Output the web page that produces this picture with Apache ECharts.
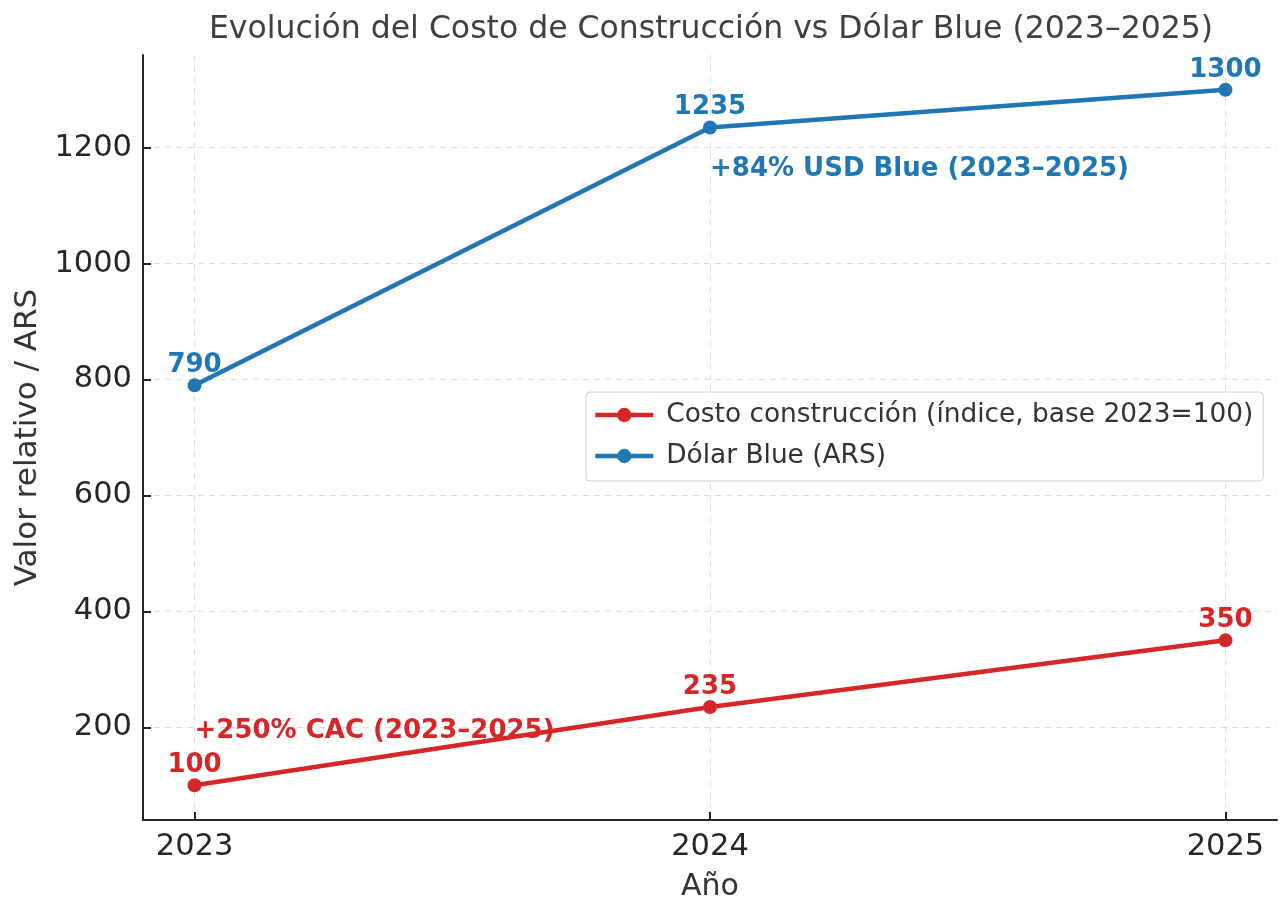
<!DOCTYPE html>
<html>
<head>
<meta charset="utf-8">
<title>Costo de Construcción vs Dólar Blue</title>
<script src="https://cdn.jsdelivr.net/npm/echarts@6/dist/echarts.min.js"></script>
<style>
    html, body { margin: 0; padding: 0; background: #fff; }
    #main { width: 1280px; height: 897px; }
</style>
</head>
<body>
<div id="main"></div>
<script>
    // datos
    var years = [2023, 2024, 2025];
    var costoConstruccion = [100, 235, 350];
    var dolarBlue = [790, 1235, 1300];
    var yTicks = [200, 400, 600, 800, 1000, 1200];
    var notaUsd = { x: 2024, y: 1163, text: '+84% USD Blue (2023–2025)' };
    var notaCac = { x: 2023, y: 193, text: '+250% CAC (2023–2025)' };

    var ROJO = '#d62728';
    var AZUL = '#1f77b4';
    var FUENTE = 'DejaVu Sans';

    function pares(xs, ys) {
        var out = [];
        for (var i = 0; i < xs.length; i++) {
            out.push([xs[i], ys[i]]);
        }
        return out;
    }

    function nota(n, color) {
        return {
            symbol: 'circle',
            symbolSize: 0,
            data: [{
                coord: [n.x, n.y],
                label: {
                    show: true,
                    position: 'right',
                    distance: 0,
                    formatter: n.text,
                    color: color,
                    fontFamily: FUENTE,
                    fontWeight: 'bold',
                    fontSize: 26
                }
            }]
        };
    }

    var myChart = echarts.init(document.getElementById('main'));
    var option = {
        animation: false,
        backgroundColor: '#fff',
        textStyle: { fontFamily: FUENTE },
        title: {
            text: 'Evolución del Costo de Construcción vs Dólar Blue (2023–2025)',
            left: 706,
            top: 9,
            textAlign: 'center',
            textStyle: { fontFamily: FUENTE, fontWeight: 'normal', fontSize: 31.5, color: '#404040' }
        },
        legend: {
            orient: 'vertical',
            left: 586,
            top: 392,
            padding: [9, 10, 11, 7],
            itemGap: 13,
            itemWidth: 58,
            itemHeight: 18,
            backgroundColor: 'rgba(255,255,255,0.85)',
            borderColor: '#d0d0d0',
            borderWidth: 1,
            borderRadius: 4,
            lineStyle: { width: 4.5 },
            textStyle: { fontFamily: FUENTE, fontSize: 26.4, lineHeight: 28, color: '#333', padding: [0, 0, 0, 8] },
            data: ['Costo construcción (índice, base 2023=100)', 'Dólar Blue (ARS)']
        },
        grid: { left: 143, right: 3, top: 55, bottom: 77, containLabel: false, outerBoundsMode: 'none' },
        xAxis: {
            type: 'value',
            min: 2022.9,
            max: 2025.1,
            name: 'Año',
            nameLocation: 'middle',
            nameGap: 52,
            nameTextStyle: { fontFamily: FUENTE, fontSize: 30, color: '#333' },
            axisLine: { show: true, onZero: false, lineStyle: { color: '#262626', width: 2 } },
            axisTick: { show: true, inside: true, length: 8, customValues: years, lineStyle: { color: '#262626', width: 2 } },
            axisLabel: { customValues: years, margin: 12, fontFamily: FUENTE, fontSize: 30.5, color: '#262626',
                formatter: function (v) { return String(v); } },
            splitLine: { show: true, lineStyle: { color: '#dddddd', type: [6, 5], width: 1 } }
        },
        yAxis: {
            type: 'value',
            min: 40,
            max: 1360,
            name: 'Valor relativo / ARS',
            nameLocation: 'middle',
            nameGap: 100,
            nameTextStyle: { fontFamily: FUENTE, fontSize: 31, color: '#333' },
            axisLine: { show: true, lineStyle: { color: '#262626', width: 2 } },
            axisTick: { show: true, inside: true, length: 8, customValues: yTicks, lineStyle: { color: '#262626', width: 2 } },
            axisLabel: { customValues: yTicks, margin: 11, fontFamily: FUENTE, fontSize: 30.5, color: '#262626',
                formatter: function (v) { return String(v); } },
            splitLine: { show: true, lineStyle: { color: '#dddddd', type: [6, 5], width: 1 } }
        },
        series: [
            {
                name: 'Costo construcción (índice, base 2023=100)',
                type: 'line',
                data: pares(years, costoConstruccion),
                color: ROJO,
                symbol: 'circle',
                symbolSize: 14,
                lineStyle: { width: 4.5, color: ROJO },
                itemStyle: { color: ROJO },
                label: { show: true, position: 'top', distance: 0, color: ROJO, fontFamily: FUENTE, fontWeight: 'bold', fontSize: 26,
                    formatter: function (p) { return p.value[1]; } },
                markPoint: nota(notaCac, ROJO),
                z: 3
            },
            {
                name: 'Dólar Blue (ARS)',
                type: 'line',
                data: pares(years, dolarBlue),
                color: AZUL,
                symbol: 'circle',
                symbolSize: 14,
                lineStyle: { width: 4.5, color: AZUL },
                itemStyle: { color: AZUL },
                label: { show: true, position: 'top', distance: 0, color: AZUL, fontFamily: FUENTE, fontWeight: 'bold', fontSize: 26,
                    formatter: function (p) { return p.value[1]; } },
                markPoint: nota(notaUsd, AZUL),
                z: 3
            }
        ]
    };
    myChart.setOption(option);
</script>
</body>
</html>
